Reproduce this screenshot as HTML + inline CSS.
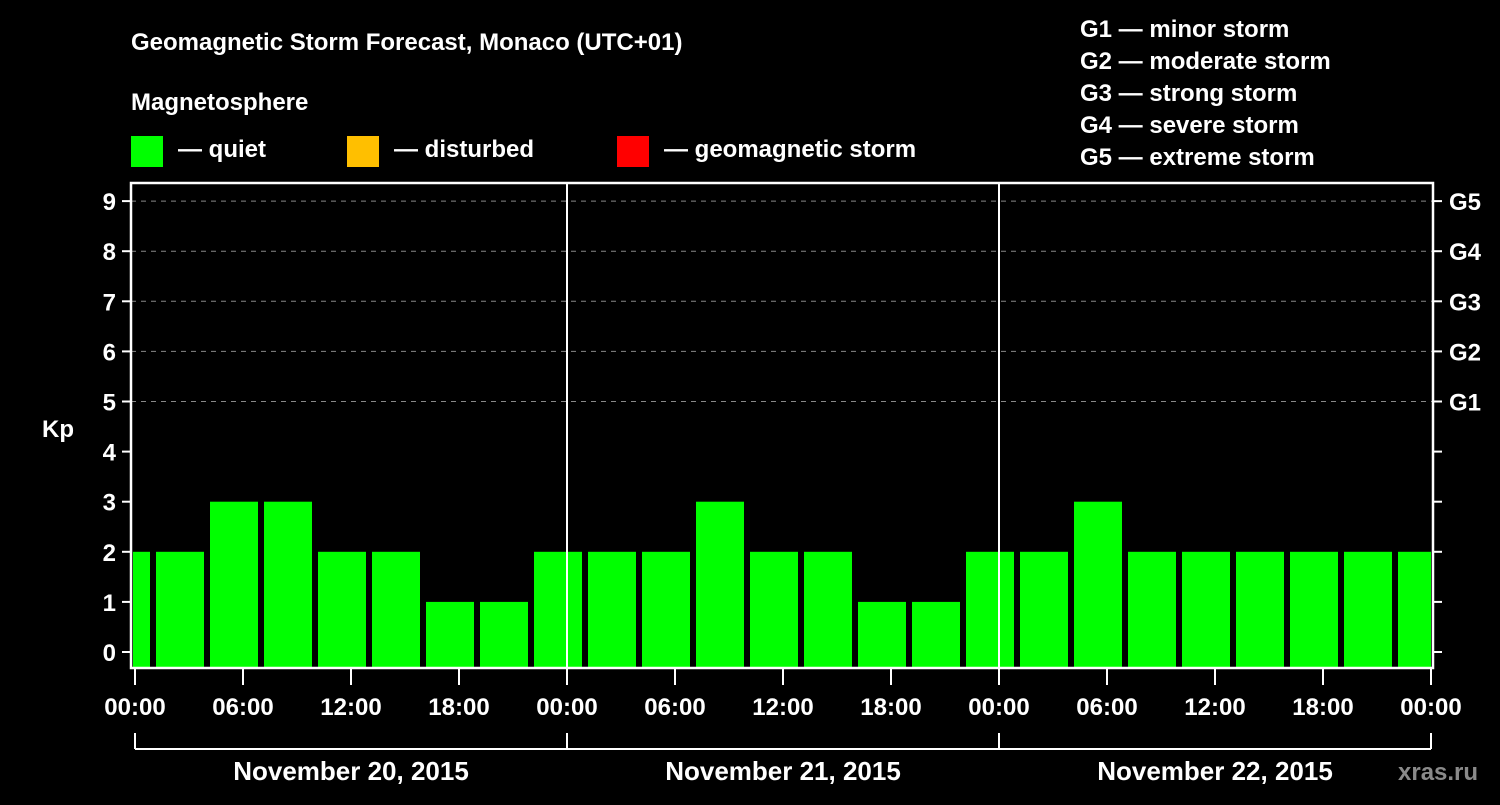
<!DOCTYPE html>
<html><head><meta charset="utf-8"><style>
body{margin:0;background:#000;width:1500px;height:800px;overflow:hidden}
svg text{font-family:"Liberation Sans",Arial,sans-serif;font-weight:bold;fill:#fff}
</style></head><body>
<svg id="chart" width="1500" height="800" viewBox="0 0 1500 800">
<text x="131" y="50" font-size="24">Geomagnetic Storm Forecast, Monaco (UTC+01)</text>
<text x="131" y="110" font-size="24">Magnetosphere</text>
<rect x="131" y="136" width="32" height="31" fill="#00ff00"/>
<text x="178" y="157" font-size="24">— quiet</text>
<rect x="347" y="136" width="32" height="31" fill="#ffbf00"/>
<text x="394" y="157" font-size="24">— disturbed</text>
<rect x="617" y="136" width="32" height="31" fill="#ff0000"/>
<text x="664" y="157" font-size="24">— geomagnetic storm</text>
<g font-size="24">
<text x="1080" y="37">G1 — minor storm</text>
<text x="1080" y="69">G2 — moderate storm</text>
<text x="1080" y="101">G3 — strong storm</text>
<text x="1080" y="133">G4 — severe storm</text>
<text x="1080" y="165">G5 — extreme storm</text>
</g>
<text x="42" y="437" font-size="24">Kp</text>
<text x="1398" y="780" font-size="24" fill="#888" style="fill:#8a8a8a">xras.ru</text>
<g id="plot"></g>
</svg>
<script>
const kpValues=[2,2,3,3,2,2,1,1,2,2,2,3,2,2,1,1,2,2,3,2,2,2,2,2,2];
const yTicks=[0,1,2,3,4,5,6,7,8,9];
const gLabels=["G1","G2","G3","G4","G5"];
const gLevels=[5,6,7,8,9];
const xTickLabels=["00:00","06:00","12:00","18:00","00:00","06:00","12:00","18:00","00:00","06:00","12:00","18:00","00:00"];
const dayLabels=["November 20, 2015","November 21, 2015","November 22, 2015"];
const NS="http://www.w3.org/2000/svg";
const L=131,R=1433,T=183,B=668;
const x0=135,hourPx=18;
const y=v=>652-v*50.1;
const xh=h=>x0+h*hourPx;
const plot=document.getElementById('plot');
function mk(tag,attrs,parent){const e=document.createElementNS(NS,tag);for(const k in attrs)e.setAttribute(k,attrs[k]);(parent||plot).appendChild(e);return e;}
// gridlines
gLevels.forEach(v=>{
 const l=mk('line',{x1:L,x2:R,y1:y(v),y2:y(v),stroke:'#888','stroke-dasharray':'5,5','stroke-width':1});
 
 
});
// bars
const clip=mk('clipPath',{id:'pc'});mk('rect',{x:L+2,y:T,width:R-L-4,height:B-T},clip);
kpValues.forEach((v,i)=>{
 const c=xh(-0.5+3*i);
 const col=v>=5?'#ff0000':(v>=4?'#ffbf00':'#00ff00');
 const r=mk('rect',{x:c-24,y:y(v),width:48,height:B-y(v),fill:col,'clip-path':'url(#pc)'});
 
 
});
// day dividers
[24,48].forEach(h=>{
 const l=mk('line',{x1:xh(h),x2:xh(h),y1:T,y2:B,stroke:'#fff','stroke-width':2});
 
 
});
// frame
const fr=mk('rect',{x:L,y:T,width:R-L,height:B-T,fill:'none',stroke:'#fff','stroke-width':2.5});


// y ticks
yTicks.forEach(v=>{
 mk('line',{x1:122,x2:L,y1:y(v),y2:y(v),stroke:'#fff','stroke-width':2});
 mk('line',{x1:R,x2:1442,y1:y(v),y2:y(v),stroke:'#fff','stroke-width':2});
 const t=mk('text',{x:116,y:y(v)+9,'font-size':24,'text-anchor':'end'});t.textContent=v;
 
 
});
gLevels.forEach((v,i)=>{
 const t=mk('text',{x:1449,y:y(v)+9,'font-size':24});t.textContent=gLabels[i];
 
 
});
// x ticks
xTickLabels.forEach((s,i)=>{
 const xx=xh(i*6);
 mk('line',{x1:xx,x2:xx,y1:B,y2:685,stroke:'#fff','stroke-width':2});
 const t=mk('text',{x:xx,y:715,'font-size':24,'text-anchor':'middle'});t.textContent=s;
 
 
});
// day brackets
mk('line',{x1:xh(0),x2:xh(72),y1:749,y2:749,stroke:'#fff','stroke-width':2});
[0,24,48,72].forEach(h=>mk('line',{x1:xh(h),x2:xh(h),y1:733,y2:749,stroke:'#fff','stroke-width':2}));
dayLabels.forEach((s,i)=>{
 const t=mk('text',{x:xh(i*24+12),y:780,'font-size':26,'text-anchor':'middle'});t.textContent=s;
 
 
});
</script>
</body></html>
